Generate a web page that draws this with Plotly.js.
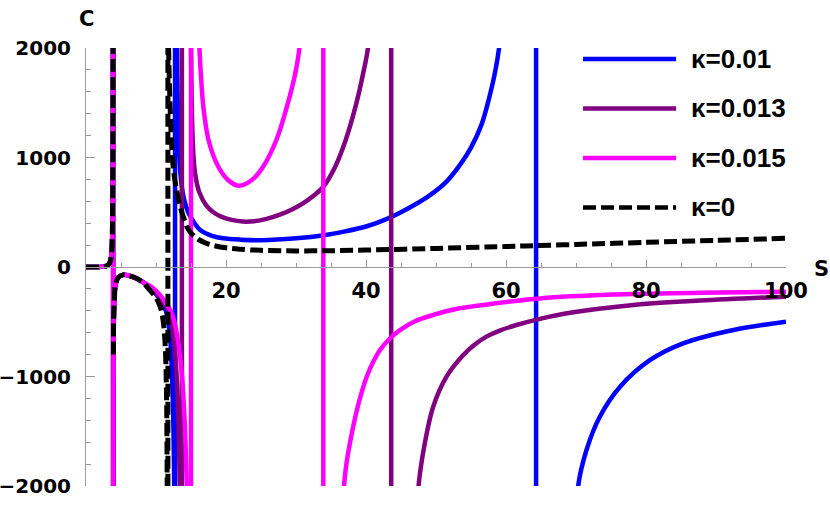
<!DOCTYPE html>
<html>
<head>
<meta charset="utf-8">
<script src="https://cdn.plot.ly/plotly-3.0.1.min.js"></script>
<style>
  html, body { margin: 0; padding: 0; background: white; }
  #chart { width: 830px; height: 505px; }
</style>
</head>
<body>
<div id="chart"></div>
<script>
// Heat capacity C against entropy S.
// null breaks a curve at a pole; the two-point pieces are the vertical jumps
// that the original plot draws through each pole.

const kappaLabels = ['κ=0.01', 'κ=0.013', 'κ=0.015', 'κ=0'];
const curveColors = ['#0000ff', '#800080', '#ff00ff', '#000000'];

// shared start (all four curves), up to the first pole near S = 3.9
const sStart = [0, 1, 2, 2.6, 3, 3.3, 3.5, 3.65, 3.75, 3.82, 3.86, 3.87];
const cStart = [0, 0, 1, 4, 12, 30, 60, 120, 280, 700, 2000, 2500];

// shared top of the negative arch for the three kappa > 0 curves
const sArch = [3.88, 3.92, 3.95, 4.05, 4.2, 4.6, 5.3, 6.2, 7.2, 8.2];
const cArch = [-2500, -1500, -600, -300, -170, -95, -72, -80, -104, -140];

const sBlue = [9.1, 10, 10.8, 11.4, 11.8, 12.1, 12.35, 12.5, 12.6, 12.68, null,
  12.72, 12.72, null,
  12.95, 13.0, 13.1, 13.3, 13.6, 14, 14.6, 15.5, 16.3, 18, 19.6, 22, 25, 30, 34, 37, 40, 43,
  46, 49, 51.5, 53.4, 55, 56.5, 57.5, 58.5, 59.1, 59.5, null,
  64.3, 64.3, null,
  70.1, 70.3, 71.5, 73.4, 76.3, 80.6, 85.3, 92.5, 100];
const cBlue = [-190, -250, -320, -400, -520, -720, -1100, -1500, -2000, -2500, null,
  2500, -2500, null,
  2500, 2000, 1500, 1050, 780, 620, 500, 400, 338, 285, 262, 250, 245, 262, 290, 325, 370, 440,
  535, 650, 780, 930, 1090, 1300, 1520, 1800, 2050, 2500, null,
  2500, -2500, null,
  -2500, -2006, -1671, -1367, -1093, -849, -697, -575, -500];

const sPurple = [9.1, 10, 11, 11.8, 12.3, 12.7, 13, 13.25, 13.4, 13.48, null,
  13.7, 13.7, null,
  14.9, 15.0, 15.1, 15.25, 15.45, 15.75, 16.2, 17.2, 18.2, 19.3, 20.8, 22.4, 24, 25.8, 27.7,
  29.5, 31, 32.5, 33.9, 35.6, 37.1, 38.5, 39.6, 40.3, 40.6, null,
  43.6, 43.6, null,
  47.3, 47.5, 48.4, 49.6, 51.5, 53.9, 55.5, 57.2, 59.2, 61.5, 65, 68.7, 78.2, 87.7, 100];
const cPurple = [-185, -240, -320, -400, -540, -760, -1050, -1500, -2000, -2500, null,
  2500, -2500, null,
  2500, 2000, 1500, 1150, 930, 790, 680, 560, 500, 460, 430, 415, 418, 440, 478,
  528, 581, 650, 733, 916, 1160, 1464, 1769, 2012, 2500, null,
  2500, -2500, null,
  -2500, -2006, -1610, -1276, -1002, -804, -710, -636, -578, -530, -472, -423, -347, -307, -271];

const sMagenta = [9.5, 10.5, 11.3, 12.1, 12.7, 13.2, 13.7, 14.05, 14.4, 14.55, null,
  15.0, 15.0, null,
  16.1, 16.2, 16.4, 16.76, 17.5, 18.9, 20.3, 21.8, 23.7, 25.3, 27.2, 28.7, 29.9, 30.5, 30.7, null,
  33.9, 33.9, null,
  36.7, 36.86, 37.2, 37.7, 38.7, 39.4, 40.1, 41, 42, 43.3, 44.9, 47, 49.6, 53, 56.8, 63.9, 73.4,
  87.7, 100];
const cMagenta = [-190, -250, -320, -400, -520, -700, -980, -1350, -2000, -2500, null,
  -2500, 2500, null,
  2500, 2012, 1769, 1464, 1160, 916, 795, 742, 795, 916, 1160, 1464, 1769, 2012, 2500, null,
  2500, -2500, null,
  -2500, -2006, -1800, -1610, -1306, -1140, -1002, -870, -758, -660, -575, -495, -438, -382,
  -347, -292, -256, -235, -225];

// kappa = 0: arch drawn from -800, pole near S = 11.7, then the low positive branch
const sBlack = [3.92, 3.95, 4.05, 4.2, 4.6, 5.3, 6.2, 7.2, 8.2, 9.1, 10, 10.6,
  11, 11.3, 11.5, 11.6, 11.65, null,
  11.7, 11.7, null,
  11.75, 11.8, 12, 12.2, 12.5, 12.95, 13.5, 14, 14.4, 15, 16, 17, 18, 20, 22, 25, 30,
  35, 40, 50, 60, 64, 70, 80, 90, 100];
const cBlack = [-800, -500, -300, -170, -95, -72, -80, -104, -145, -210, -280, -362,
  -480, -697, -1150, -2000, -2500, null,
  -2500, 2500, null,
  2500, 2000, 1500, 1160, 880, 703, 540, 440, 368, 310, 255, 222, 200, 175, 162, 152, 147,
  149, 155, 170, 187, 195, 206, 225, 243, 262];

function joined(parts) {
  const out = [];
  parts.forEach(p => p.forEach(v => out.push(v)));
  return out;
}

const fontX = { family: 'DejaVu Sans, sans-serif', size: 21, color: 'black', weight: 'bold' };
const fontY = { family: 'DejaVu Sans, sans-serif', size: 20, color: 'black', weight: 'bold' };
const axisGray = '#9a9a9a';
const blackDash = '13px,5px';

const curves = [
  { x: joined([sStart, [null], sArch, sBlue]), y: joined([cStart, [null], cArch, cBlue]) },
  { x: joined([sStart, [null], sArch, sPurple]), y: joined([cStart, [null], cArch, cPurple]) },
  { x: joined([sStart, [null], sArch, sMagenta]), y: joined([cStart, [null], cArch, cMagenta]) },
  { x: joined([sStart, [null], sBlack]), y: joined([cStart, [null], cBlack]) }
];

// the jump at the first pole for the three coloured curves
const firstJumpS = [3.87, 3.88];
const firstJumpC = [2500, -2500];

const traces = [];
curves.forEach((cv, i) => {
  if (i < 3) {
    traces.push({
      x: firstJumpS, y: firstJumpC, type: 'scatter', mode: 'lines', hoverinfo: 'skip',
      showlegend: false, line: { color: curveColors[i], width: 4.5 }
    });
  }
});
curves.forEach((cv, i) => {
  traces.push({
    x: cv.x,
    y: cv.y,
    type: 'scatter',
    mode: 'lines',
    name: kappaLabels[i],
    connectgaps: false,
    hoverinfo: 'skip',
    line: {
      color: curveColors[i],
      width: i === 3 ? 5 : 4.5,
      dash: i === 3 ? blackDash : 'solid',
      shape: 'spline',
      smoothing: 0.9
    }
  });
});

// legend as in the picture: long sample lines with the label to their right
const legendRows = [0.975, 0.862, 0.749, 0.636];
const shapes = legendRows.map((yy, i) => ({
  type: 'line', xref: 'paper', yref: 'paper',
  x0: 0.71, x1: 0.843, y0: yy, y1: yy,
  line: { color: curveColors[i], width: 4.5, dash: i === 3 ? blackDash : 'solid' }
}));
const annotations = legendRows.map((yy, i) => ({
  xref: 'paper', yref: 'paper', x: 0.862, y: yy,
  xanchor: 'left', yanchor: 'middle', showarrow: false,
  text: kappaLabels[i],
  font: { family: 'Liberation Sans, Arial, sans-serif', size: 26, color: 'black', weight: 'bold' }
}));
annotations.push(
  { xref: 'paper', yref: 'paper', x: 0.0, y: 1.066, xanchor: 'center', yanchor: 'middle',
    showarrow: false, text: 'C', font: fontX },
  { xref: 'paper', yref: 'paper', x: 1.05, y: 0.495, xanchor: 'center', yanchor: 'middle',
    showarrow: false, text: 'S', font: fontX }
);

const layout = {
  width: 830,
  height: 505,
  margin: { l: 86, r: 44, t: 48, b: 19 },
  paper_bgcolor: 'white',
  plot_bgcolor: 'white',
  showlegend: false,
  xaxis: {
    range: [0, 100],
    anchor: 'free',
    position: 0.5,
    showgrid: false,
    zeroline: false,
    showline: true,
    linecolor: axisGray,
    linewidth: 1,
    ticks: 'inside',
    ticklen: 7,
    tickcolor: axisGray,
    tickvals: [20, 40, 60, 80, 100],
    ticktext: ['20', '40', '60', '80', '100'],
    tickfont: fontX,
    ticklabelstandoff: 5,
    minor: { tickmode: 'linear', tick0: 0, dtick: 5, ticks: 'inside', ticklen: 4, tickcolor: axisGray }
  },
  yaxis: {
    range: [-2000, 2000],
    showgrid: false,
    zeroline: false,
    showline: true,
    linecolor: axisGray,
    linewidth: 1,
    ticks: 'inside',
    ticklen: 9,
    tickcolor: axisGray,
    tickvals: [-2000, -1000, 0, 1000, 2000],
    tickfont: fontY,
    ticklabelstandoff: 10,
    minor: { tickmode: 'linear', tick0: 0, dtick: 200, ticks: 'inside', ticklen: 5, tickcolor: axisGray }
  },
  shapes: shapes,
  annotations: annotations
};

Plotly.newPlot('chart', traces, layout, { displayModeBar: false, staticPlot: true });
</script>
</body>
</html>
